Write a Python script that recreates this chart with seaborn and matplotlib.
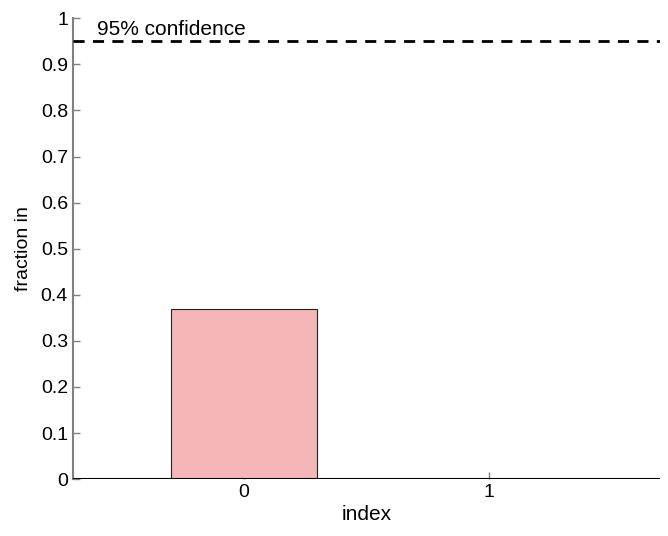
import matplotlib.pyplot as plt
import seaborn as sns
import pandas as pd

sns.set_style("white")
plt.rcParams['font.family'] = ['Liberation Sans', 'DejaVu Sans']
plt.rcParams['text.color'] = 'black'
plt.rcParams['axes.labelcolor'] = 'black'
plt.rcParams['xtick.labelcolor'] = 'black'
plt.rcParams['ytick.labelcolor'] = 'black'

# data
index = ["0", "1"]
fraction_in = [0.37, 0.0]
confidence = 0.95

df = pd.DataFrame({"index": index, "fraction in": fraction_in})

fig = plt.figure(figsize=(6.68, 5.36), dpi=100)
ax = fig.add_axes([0.109, 0.106, 0.879, 0.86])

sns.barplot(data=df, x="index", y="fraction in", color="#f4b6b6", saturation=1,
            width=0.6, edgecolor="#222222", linewidth=0.8, ax=ax)

ax.axhline(confidence, color="black", ls=(0, (4, 3)), lw=2, zorder=3)
ax.text(-0.6, confidence + 0.004, "95% confidence", fontsize=15, va="bottom", ha="left")
ax.axhline(0, color="black", lw=1.5, zorder=3)

ax.set_xlim(-0.7, 1.7)
ax.set_ylim(0, 1)
ax.set_yticks([i / 10 for i in range(11)])
ax.set_yticklabels(["0", "0.1", "0.2", "0.3", "0.4", "0.5", "0.6", "0.7", "0.8", "0.9", "1"])

sns.despine(ax=ax, top=True, right=True, bottom=True)
ax.spines["left"].set_color("#808080")
ax.spines["left"].set_linewidth(1.5)
ax.tick_params(axis="both", direction="in", length=5, width=1, color="#808080",
               labelsize=14, labelcolor="black", left=True, bottom=True)
ax.set_xlabel("index", fontsize=15, labelpad=3)
ax.set_ylabel("fraction in", fontsize=14, labelpad=6)

plt.savefig("out.png", dpi=100)
